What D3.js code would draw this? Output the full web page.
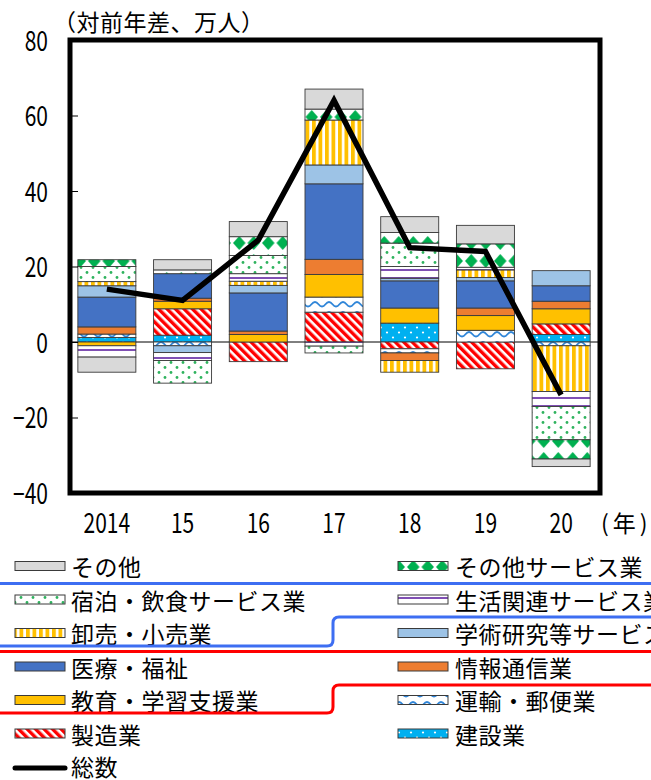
<!DOCTYPE html>
<html>
<head>
<meta charset="utf-8">
<script src="https://cdn.jsdelivr.net/npm/d3@7"></script>
<style>
  html, body { margin: 0; padding: 0; background: #fff; }
  svg { display: block; }
</style>
</head>
<body>
<svg id="chart" width="651" height="780"></svg>
<script>
// ---- data: year-on-year change in employment by industry (10k persons) ----
const years = ["2014", "2015", "2016", "2017", "2018", "2019", "2020"];
const yearLabels = ["2014", "15", "16", "17", "18", "19", "20"];
const yTicks = [-40, -20, 0, 20, 40, 60, 80];

const construction  = [1.2, 1.8, 0, 0, 5.0, 0, 2.0];           // 建設業
const manufacturing = [0, 7.0, -5.2, 7.9, -1.8, -7.1, 2.8];    // 製造業
const transport     = [0.9, -1.0, 0, 4.0, -1.1, 3.1, -1.0];    // 運輸・郵便業
const education     = [-1.0, 2.0, 2.0, 6.0, 4.0, 3.9, 4.0];    // 教育・学習支援業
const infoComm      = [1.9, 0.8, 0.9, 4.0, -2.0, 2.0, 2.0];    // 情報通信業
const medical       = [7.9, 6.5, 10.1, 20.0, 7.2, 7.2, 4.1];   // 医療・福祉
const research      = [3.0, -1.8, 2.0, 5.0, 0.7, 0.9, 4.0];    // 学術研究等サービス業
const retail        = [1.1, 0, 1.1, 11.9, -3.1, 2.0, -12.1];   // 卸売・小売業
const living        = [-3.0, -2.1, 2.0, -1.1, 3.1, 0.7, -4.0]; // 生活関連サービス業
const hospitality   = [4.0, -6.0, 4.8, -1.8, 6.2, 0, -8.8];    // 宿泊・飲食サービス業
const otherServices = [1.8, 1.0, 5.0, 2.9, 2.8, 6.2, -5.1];    // その他サービス業
const others        = [-4.0, 2.7, 4.0, 5.3, 4.2, 4.9, -2.0];   // その他
const total         = [14, 11, 27, 64, 25, 24, -14];           // 総数

// stacking order (first = nearest to zero)
const seriesNames = ["建設業", "製造業", "運輸・郵便業", "教育・学習支援業", "情報通信業",
  "医療・福祉", "学術研究等サービス業", "卸売・小売業", "生活関連サービス業",
  "宿泊・飲食サービス業", "その他サービス業", "その他"];
const seriesValues = [construction, manufacturing, transport, education, infoComm,
  medical, research, retail, living, hospitality, otherServices, others];
const totalName = "総数";

// legend layout: two columns
const legendLeft  = ["その他", "宿泊・飲食サービス業", "卸売・小売業", "医療・福祉", "教育・学習支援業", "製造業", "総数"];
const legendRight = ["その他サービス業", "生活関連サービス業", "学術研究等サービス業", "情報通信業", "運輸・郵便業", "建設業"];

// ---- styles ----
const fills = {
  "建設業": "url(#p-constr)",
  "製造業": "url(#p-manuf)",
  "運輸・郵便業": "url(#p-trans)",
  "教育・学習支援業": "#ffc000",
  "情報通信業": "#ed7d31",
  "医療・福祉": "#4472c4",
  "学術研究等サービス業": "#9dc3e6",
  "卸売・小売業": "url(#p-retail)",
  "生活関連サービス業": "url(#p-living)",
  "宿泊・飲食サービス業": "url(#p-hotel)",
  "その他サービス業": "url(#p-othsvc)",
  "その他": "#d9d9d9"
};

const JP = "'Noto Sans CJK JP', 'Noto Sans', sans-serif";
const DIGIT_SCALE = 0.75;
const svg = d3.select("#chart");
const defs = svg.append("defs");

function pattern(id, w, h, build, transform) {
  const p = defs.append("pattern").attr("id", id)
    .attr("patternUnits", "userSpaceOnUse").attr("width", w).attr("height", h);
  if (transform) p.attr("patternTransform", transform);
  build(p);
}
pattern("p-constr", 12, 10, p => {
  p.append("rect").attr("width", 12).attr("height", 10).attr("fill", "#00b0f0");
  p.append("circle").attr("cx", 3).attr("cy", 2.5).attr("r", 1.1).attr("fill", "#fff");
  p.append("circle").attr("cx", 9).attr("cy", 7.5).attr("r", 1.1).attr("fill", "#fff");
});
pattern("p-manuf", 6, 6, p => {
  p.append("rect").attr("width", 6).attr("height", 6).attr("fill", "#fff");
  p.append("rect").attr("width", 3.4).attr("height", 6).attr("fill", "#ff0000");
}, "rotate(-45)");
pattern("p-trans", 14, 10, p => {
  p.append("rect").attr("width", 14).attr("height", 10).attr("fill", "#fff");
  p.append("path").attr("d", "M0,6.5 C3.5,6.5 3.5,2 7,2 C10.5,2 10.5,6.5 14,6.5")
    .attr("fill", "none").attr("stroke", "#2f85d8").attr("stroke-width", 1.8);
});
pattern("p-retail", 6.5, 10, p => {
  p.append("rect").attr("width", 6.5).attr("height", 10).attr("fill", "#fff");
  p.append("rect").attr("width", 3.8).attr("height", 10).attr("fill", "#ffc000");
});
pattern("p-living", 10, 8, p => {
  p.append("rect").attr("width", 10).attr("height", 8).attr("fill", "#fff");
  p.append("rect").attr("y", 5).attr("width", 10).attr("height", 2).attr("fill", "#7f4fb3");
});
pattern("p-hotel", 12, 10, p => {
  p.append("rect").attr("width", 12).attr("height", 10).attr("fill", "#fff");
  p.append("circle").attr("cx", 3).attr("cy", 2.5).attr("r", 1.4).attr("fill", "#2fb35e");
  p.append("circle").attr("cx", 9).attr("cy", 7.5).attr("r", 1.4).attr("fill", "#2fb35e");
});
pattern("p-othsvc", 14.5, 18, p => {
  p.append("rect").attr("width", 14.5).attr("height", 18).attr("fill", "#fff");
  p.append("polygon").attr("points", "7.25,2 13.5,9 7.25,16 1,9").attr("fill", "#00b050");
});

// ---- scales ----
const plot = { left: 70, right: 600, top: 40, bottom: 493 };
const x = d3.scaleBand().domain(years).range([plot.left - 1, plot.right - 1])
  .paddingInner(0.234).paddingOuter(0.117);
const y = d3.scaleLinear().domain([-40, 80]).range([plot.bottom, plot.top]);

const rows = years.map((yr, i) => {
  const r = { year: yr };
  seriesNames.forEach((n, k) => { r[n] = seriesValues[k][i]; });
  return r;
});
const stacked = d3.stack().keys(seriesNames).offset(d3.stackOffsetDiverging)(rows);

// zero line
svg.append("line")
  .attr("x1", plot.left).attr("x2", plot.right)
  .attr("y1", y(0)).attr("y2", y(0))
  .attr("stroke", "#000").attr("stroke-width", 1);

// stacked bars
svg.append("g").selectAll("g").data(stacked).join("g")
  .attr("fill", d => fills[d.key])
  .selectAll("rect")
  .data(d => d.filter(s => s[1] !== s[0]))
  .join("rect")
  .attr("x", d => x(d.data.year))
  .attr("width", x.bandwidth())
  .attr("y", d => y(Math.max(d[0], d[1])))
  .attr("height", d => Math.abs(y(d[0]) - y(d[1])))
  .attr("stroke", "#3a3a3a").attr("stroke-width", 0.9);

// total line
const line = d3.line()
  .x((d, i) => x(years[i]) + x.bandwidth() / 2)
  .y(d => y(d));
svg.append("path").datum(total)
  .attr("d", line)
  .attr("fill", "none").attr("stroke", "#000")
  .attr("stroke-width", 5.5).attr("stroke-linejoin", "miter");

// y axis: inward ticks, condensed digits
const yAxis = d3.axisLeft(y).tickValues(yTicks).tickSize(-8).tickPadding(22)
  .tickFormat(d => d < 0 ? "\u2212" + Math.abs(d) : String(d));
const yg = svg.append("g").attr("transform", `translate(${plot.left},0)`).call(yAxis);
yg.select(".domain").remove();
yg.selectAll(".tick line").attr("stroke", "#000").attr("stroke-width", 1);
yg.selectAll(".tick text")
  .attr("font-family", JP).attr("font-size", 28).attr("fill", "#000")
  .attr("x", -22 / DIGIT_SCALE).attr("dy", "0.36em")
  .attr("transform", `scale(${DIGIT_SCALE},1)`);

// x axis labels
const xAxis = d3.axisBottom(x).tickSize(0).tickPadding(0)
  .tickFormat((d, i) => yearLabels[i]);
const xg = svg.append("g").attr("transform", `translate(0,${plot.bottom})`).call(xAxis);
xg.select(".domain").remove();
xg.selectAll(".tick text")
  .attr("font-family", JP).attr("font-size", 28).attr("fill", "#000")
  .attr("x", 0).attr("y", 40).attr("dy", 0)
  .attr("transform", `scale(${DIGIT_SCALE},1)`);

// plot frame
svg.append("rect")
  .attr("x", plot.left).attr("y", plot.top)
  .attr("width", plot.right - plot.left).attr("height", plot.bottom - plot.top)
  .attr("fill", "none").attr("stroke", "#000").attr("stroke-width", 5);

// unit captions
svg.append("text").attr("x", 53).attr("y", 31)
  .attr("font-family", JP).attr("font-size", 23).attr("letter-spacing", 0.5)
  .text("（対前年差、万人）");
svg.append("text").attr("x", 601).attr("y", 532)
  .attr("font-family", JP).attr("font-size", 23).attr("letter-spacing", 4)
  .text("(年)");

// ---- legend ----
const rowY = i => 566 + i * 33.5;
const leg = svg.append("g");
function legendItem(name, i, sx, tx) {
  const cy = rowY(i);
  if (name === totalName) {
    leg.append("line").attr("x1", sx).attr("x2", sx + 50)
      .attr("y1", cy + 1).attr("y2", cy + 1)
      .attr("stroke", "#000").attr("stroke-width", 5).attr("stroke-linecap", "round");
  } else {
    leg.append("rect").attr("x", sx).attr("y", cy - 4.5)
      .attr("width", 50).attr("height", 9)
      .attr("fill", fills[name]).attr("stroke", "#3a3a3a").attr("stroke-width", 1);
  }
  leg.append("text").attr("x", tx).attr("y", name === totalName ? cy - 1 : cy)
    .attr("dominant-baseline", "central")
    .attr("font-family", JP).attr("font-size", 23).attr("letter-spacing", 0.5)
    .text(name);
}
legendLeft.forEach((n, i) => legendItem(n, i, 15, 71));
legendRight.forEach((n, i) => legendItem(n, i, 398, 455));

// highlight outlines around legend groups
const hl = svg.append("g").attr("fill", "none").attr("stroke-width", 3);
hl.append("line").attr("x1", 0).attr("x2", 651).attr("y1", 583.5).attr("y2", 583.5).attr("stroke", "#3d6ef2");
hl.append("path").attr("d", "M0,646 H327 Q333,646 333,640 V623 Q333,617 339,617 H651").attr("stroke", "#3d6ef2");
hl.append("line").attr("x1", 0).attr("x2", 651).attr("y1", 651.5).attr("y2", 651.5).attr("stroke", "#ff0000");
hl.append("path").attr("d", "M0,713 H327 Q333,713 333,707 V691 Q333,685 339,685 H651").attr("stroke", "#ff0000");
</script>
</body>
</html>
